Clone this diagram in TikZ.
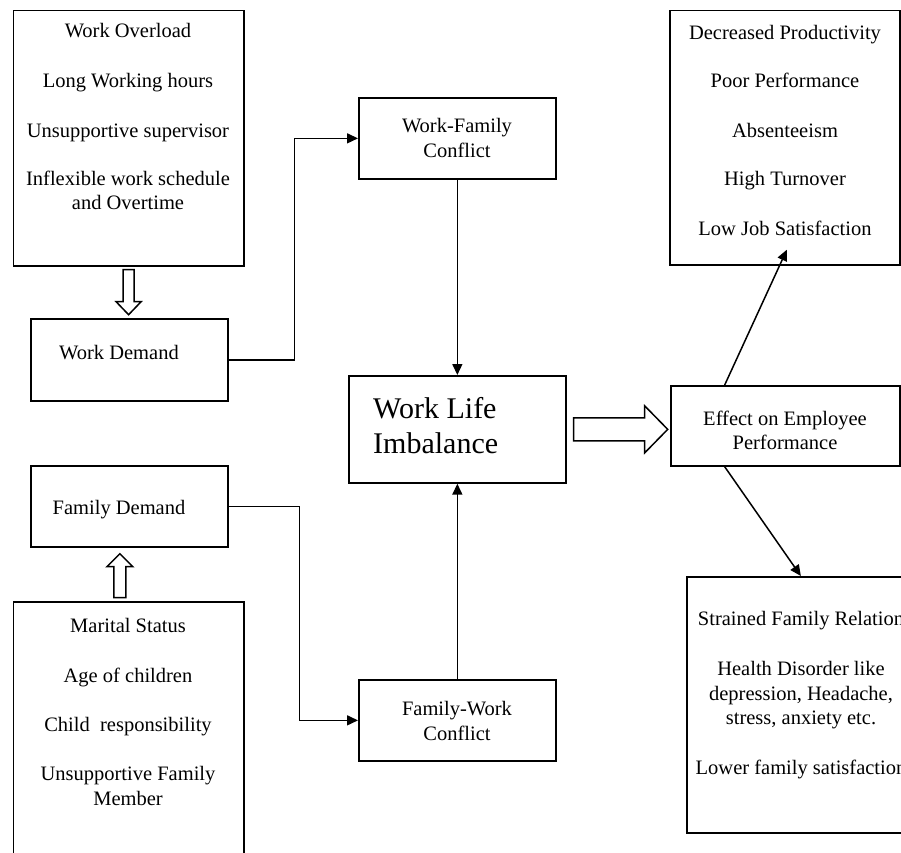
\documentclass[tikz,border=0pt]{standalone}
\usepackage{fontspec}
\setmainfont{Liberation Serif}
\usetikzlibrary{arrows.meta,calc}
\begin{document}
\begin{tikzpicture}[x=1pt,y=-1pt,
  box/.style={draw, line width=1.7pt, inner sep=0pt, anchor=north west},
  txt/.style={font=\fontsize{20.5}{24}\selectfont, inner sep=0pt, anchor=base},
  big/.style={font=\fontsize{30}{35}\selectfont, inner sep=0pt, anchor=base west},
  conn/.style={line width=1.5pt, -{Triangle[length=11pt,width=10pt]}},
  hollow/.style={draw, line width=1.5pt, fill=white, line join=miter}
]
\useasboundingbox (0,0) rectangle (901,852);
\clip (0,0) rectangle (901,852);
\fill[white] (0,0) rectangle (901,852);

% boxes
\node[box, minimum width=230.5pt, minimum height=255.5pt] (ovl) at (12.5,9.5) {};
\node[box, minimum width=197pt, minimum height=82pt] (wd) at (30,318) {};
\node[box, minimum width=197pt, minimum height=81pt] (fd) at (30,465) {};
\node[box, minimum width=230.5pt, minimum height=280pt] (fam) at (12.5,601) {};
\node[box, minimum width=197pt, minimum height=81pt] (wfc) at (358,97) {};
\node[box, minimum width=217pt, minimum height=107pt] (wli) at (348,375) {};
\node[box, minimum width=197pt, minimum height=81pt] (fwc) at (358,679) {};
\node[box, minimum width=229pt, minimum height=80pt] (eff) at (670,385) {};
\node[box, minimum width=230pt, minimum height=254.5pt] (out) at (669,9.5) {};
\node[box, minimum width=230pt, minimum height=256pt] (hlth) at (686,576) {};

% texts
\node[txt] (t1) at (128,37) {Work Overload};
\node[txt] (t2) at (128,87) {Long Working hours};
\node[txt] (t3) at (128,137) {Unsupportive supervisor};
\node[txt] (t4) at (128,185) {Inflexible work schedule};
\node[txt] (t5) at (128,209) {and Overtime};

\node[txt] (twd) at (119,359) {Work Demand};
\node[txt] (tfd) at (119,514) {Family Demand};

\node[txt] (f1) at (128,632) {Marital Status};
\node[txt] (f2) at (128,682) {Age of children};
\node[txt] (f3) at (128,731) {Child\ \ responsibility};
\node[txt] (f4) at (128,780) {Unsupportive Family};
\node[txt] (f5) at (128,805) {Member};

\node[txt] (w1) at (457,132) {Work-Family};
\node[txt] (w2) at (457,157) {Conflict};

\node[big] (b1) at (373,418) {Work Life};
\node[big] (b2) at (373,453) {Imbalance};

\node[txt] (c1) at (457,715) {Family-Work};
\node[txt] (c2) at (457,740) {Conflict};

\node[txt] (e1) at (785,425) {Effect on Employee};
\node[txt] (e2) at (785,449) {Performance};

\node[txt] (o1) at (785,39) {Decreased Productivity};
\node[txt] (o2) at (785,87) {Poor Performance};
\node[txt] (o3) at (785,137) {Absenteeism};
\node[txt] (o4) at (785,185) {High Turnover};
\node[txt] (o5) at (785,235) {Low Job Satisfaction};

\node[txt] (h1) at (801,625) {Strained Family Relation};
\node[txt] (h2) at (801,675) {Health Disorder like};
\node[txt] (h3) at (801,700) {depression, Headache,};
\node[txt] (h4) at (801,724) {stress, anxiety etc.};
\node[txt] (h5) at (801,774) {Lower family satisfaction};

% hollow block arrows
\coordinate (a1) at ($(ovl.south)+(0,3)$);
\draw[hollow] ($(a1)+(-5.5,0)$) -- ++(11,0) -- ++(0,32) -- ++(7,0) -- ++(-12.5,13) -- ++(-12.5,-13) -- ++(7,0) -- cycle;

\coordinate (a2) at ($(fd.south)+(-9.5,6)$);
\draw[hollow] (a2) -- ++(13,13) -- ++(-7,0) -- ++(0,31) -- ++(-12,0) -- ++(0,-31) -- ++(-7,0) -- cycle;

\coordinate (a3) at ($(wli.east)+(7,0)$);
\draw[hollow] ($(a3)+(0,-11.5)$) -- ++(71,0) -- ++(0,-12) -- ++(23,23.5) -- ++(-23,23.5) -- ++(0,-12) -- ++(-71,0) -- cycle;

% connectors
\draw[conn] (wd.east) -- ($(wd.east)+(66,0)$) |- (wfc.west);
\draw[conn] (fd.east) -- ($(fd.east)+(71,0)$) |- (fwc.west);
\draw[conn] (wfc.south) -- (wli.north);
\draw[conn] (fwc.north) -- (wli.south);
\draw[conn] ($(eff.north west)!0.237!(eff.north east)$) -- ($(out.south)+(2,-16)$);
\draw[conn] ($(eff.south west)!0.237!(eff.south east)$) -- ($(hlth.north)+(-1,0)$);
\end{tikzpicture}
\end{document}
